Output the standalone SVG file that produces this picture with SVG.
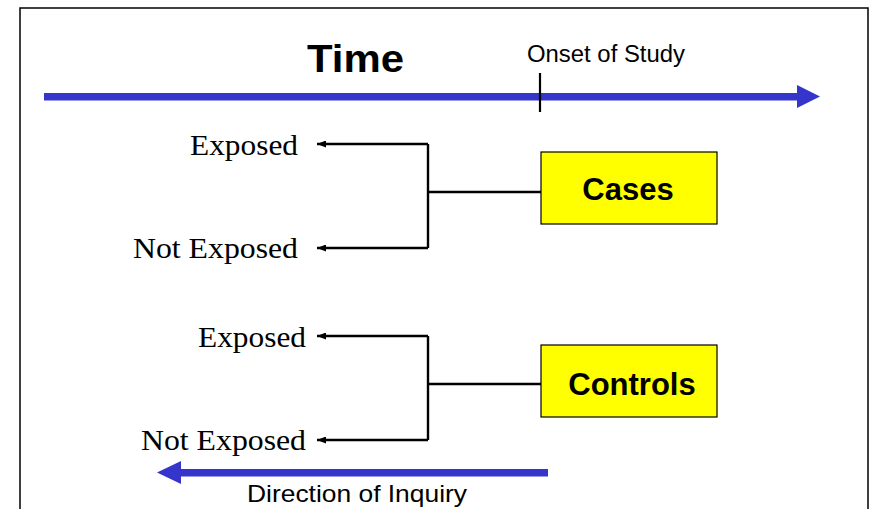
<svg xmlns="http://www.w3.org/2000/svg" width="870" height="509" viewBox="0 0 870 509">
  <style>
    .frame { fill: none; stroke: #000; stroke-width: 1.5; }
    .serif { font-family: "Liberation Serif", "Times New Roman", serif; font-size: 29px; fill: #000; }
    .sans { font-family: "Liberation Sans", Arial, sans-serif; fill: #000; }
    .box { fill: #ffff00; stroke: #000; stroke-width: 1.2; }
    .boxlabel { font-family: "Liberation Sans", Arial, sans-serif; font-weight: bold; font-size: 31px; fill: #000; text-anchor: middle; }
    .link { fill: none; stroke: #000; stroke-width: 2.4; }
    .blue { fill: #3535cc; }
  </style>
  <defs>
    <marker id="tip" markerUnits="userSpaceOnUse" markerWidth="9" markerHeight="7" refX="9" refY="3.5" orient="auto">
      <path d="M0,0 L9,3.5 L0,7 z" fill="#000"/>
    </marker>
  </defs>

  <rect width="870" height="509" fill="#fff"/>
  <!-- slide frame, open at the bottom -->
  <path class="frame" d="M20,509 V8 H868 V509"/>

  <!-- time axis -->
  <g id="time-axis">
    <rect class="blue" x="44" y="93" width="755" height="7.5"/>
    <polygon class="blue" points="797,85 820,96.5 797,108"/>
    <text class="sans" x="307" y="72" font-size="38" font-weight="bold" textLength="97" lengthAdjust="spacingAndGlyphs">Time</text>
    <line x1="540" y1="73" x2="540" y2="112" stroke="#000" stroke-width="2.2"/>
    <text class="sans" x="527" y="62" font-size="23" textLength="158" lengthAdjust="spacingAndGlyphs">Onset of Study</text>
  </g>

  <!-- groups -->
  <g id="cases">
    <rect class="box" x="541" y="152" width="176" height="72"/>
    <text class="boxlabel" x="628" y="200">Cases</text>
  </g>
  <g id="controls">
    <rect class="box" x="541" y="345" width="176" height="72"/>
    <text class="boxlabel" x="632" y="395">Controls</text>
  </g>

  <!-- exposure outcomes -->
  <g id="cases-exposed">
    <text class="serif" x="298" y="155" text-anchor="end" textLength="108" lengthAdjust="spacingAndGlyphs">Exposed</text>
  </g>
  <g id="cases-not-exposed">
    <text class="serif" x="298" y="258" text-anchor="end" textLength="165" lengthAdjust="spacingAndGlyphs">Not Exposed</text>
  </g>
  <g id="controls-exposed">
    <text class="serif" x="306" y="347" text-anchor="end" textLength="108" lengthAdjust="spacingAndGlyphs">Exposed</text>
  </g>
  <g id="controls-not-exposed">
    <text class="serif" x="306" y="450" text-anchor="end" textLength="165" lengthAdjust="spacingAndGlyphs">Not Exposed</text>
  </g>

  <!-- connectors -->
  <g id="connectors">
    <path class="link" d="M541,192 H428"/>
    <path class="link" d="M428,144 V248"/>
    <path class="link" d="M428,144 H317" marker-end="url(#tip)"/>
    <path class="link" d="M428,248 H317" marker-end="url(#tip)"/>

    <path class="link" d="M541,384 H428"/>
    <path class="link" d="M428,336 V440"/>
    <path class="link" d="M428,336 H317" marker-end="url(#tip)"/>
    <path class="link" d="M428,440 H317" marker-end="url(#tip)"/>
  </g>

  <!-- direction of inquiry -->
  <g id="inquiry">
    <rect class="blue" x="180" y="469" width="368" height="7.5"/>
    <polygon class="blue" points="181,461 157,472.5 181,484"/>
    <text class="sans" x="247" y="502" font-size="24" textLength="220" lengthAdjust="spacingAndGlyphs">Direction of Inquiry</text>
  </g>
</svg>
